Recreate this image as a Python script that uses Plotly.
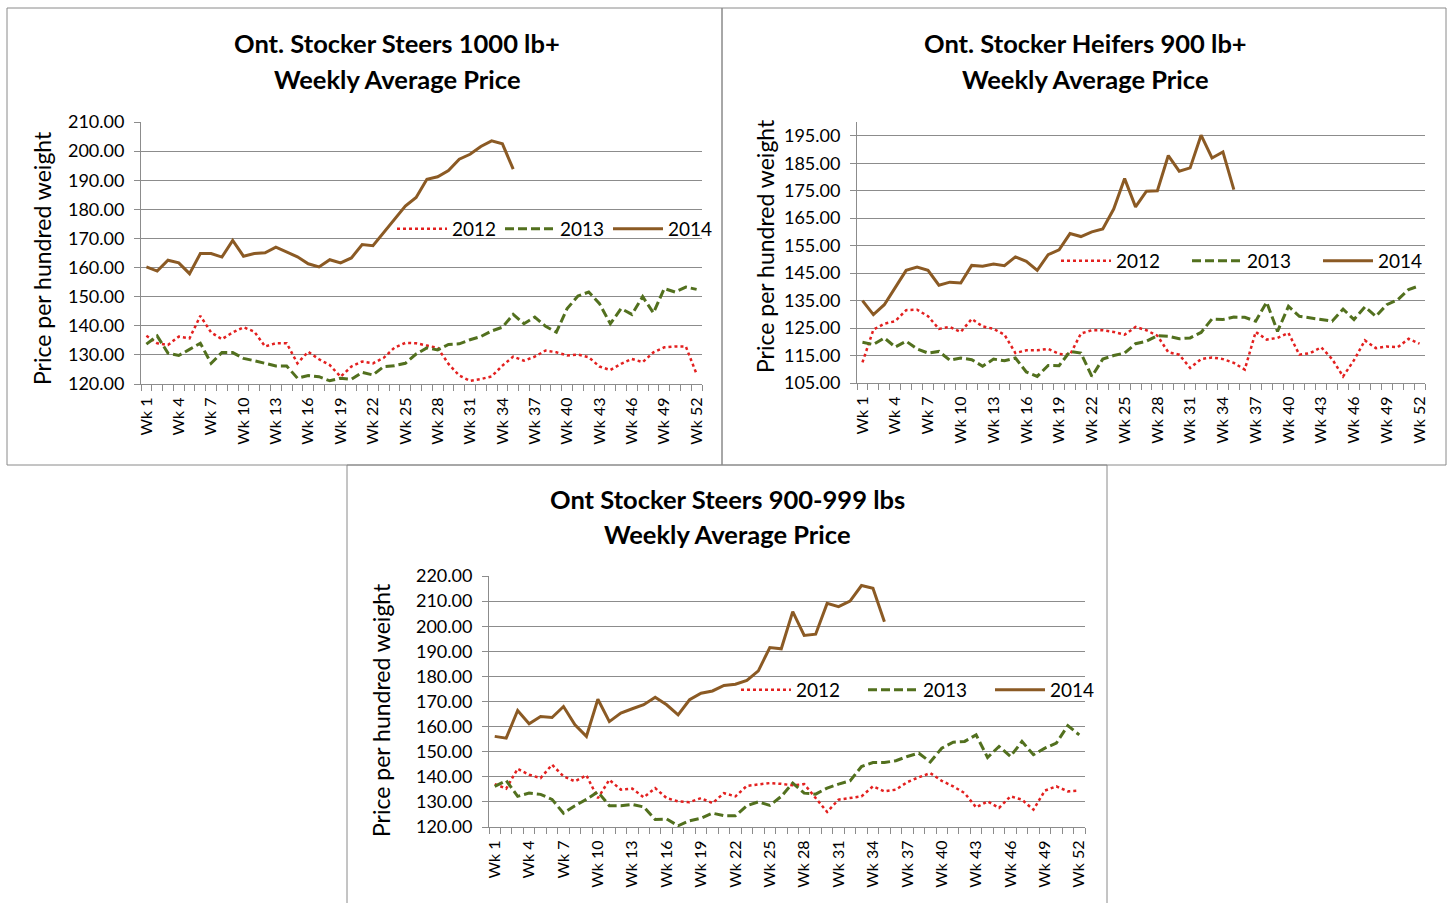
import plotly.graph_objects as go

# ---------------- data ----------------
weeks = list(range(1, 53))
tick_weeks = weeks[::3]
tick_labels = [f"Wk {w}" for w in tick_weeks]
weeks_2014 = weeks[:35]
years = ["2012", "2013", "2014"]

# Ont. Stocker Steers 1000 lb+
steers1000_2012 = [136.6, 134.0, 133.4, 136.3, 135.7, 143.4, 137.7, 135.4, 137.7, 139.5,
                   138.0, 132.9, 134.0, 134.0, 127.1, 131.1, 128.5, 126.5, 122.5, 126.0,
                   127.7, 127.1, 129.0, 132.5, 134.1, 134.0, 133.2, 132.4, 126.9, 122.9,
                   121.1, 121.7, 122.6, 126.3, 129.4, 128.0, 129.4, 131.5, 130.9, 129.8,
                   130.1, 129.2, 126.0, 124.8, 126.9, 128.6, 127.5, 130.9, 132.6, 132.9,
                   132.9, 123.4]
steers1000_2013 = [133.7, 136.5, 130.6, 129.8, 131.9, 134.0, 127.1, 130.8, 130.8, 128.8,
                   128.0, 127.1, 126.2, 126.2, 122.0, 122.9, 122.5, 121.1, 122.0, 121.6,
                   124.0, 123.1, 126.0, 126.3, 127.1, 130.3, 132.4, 131.7, 133.6, 133.8,
                   135.2, 136.3, 138.2, 139.5, 143.9, 140.7, 143.0, 139.8, 137.8, 145.9,
                   150.2, 151.6, 147.6, 140.7, 145.9, 143.9, 150.0, 144.4, 152.8, 151.6,
                   153.3, 152.5]
steers1000_2014 = [160.2, 158.8, 162.5, 161.6, 157.9, 164.8, 164.8, 163.6, 169.3, 163.9,
                   164.8, 165.1, 167.0, 165.3, 163.7, 161.3, 160.2, 162.7, 161.6, 163.3,
                   167.9, 167.5, 172.0, 176.5, 181.1, 184.1, 190.3, 191.2, 193.3, 197.2,
                   198.9, 201.6, 203.5, 202.5, 193.8]

# Ont. Stocker Heifers 900 lb+
heifers900_2012 = [112.5, 124.4, 126.6, 127.5, 131.5, 131.7, 129.3, 124.7, 125.4, 123.6,
                   128.3, 125.6, 124.7, 122.6, 115.9, 116.9, 116.9, 117.4, 115.6, 115.3,
                   123.0, 124.2, 124.2, 123.6, 122.6, 125.4, 124.2, 122.2, 116.2, 115.3,
                   110.5, 113.7, 114.3, 113.7, 112.3, 109.9, 123.6, 120.8, 121.4, 123.2,
                   115.3, 115.9, 118.0, 113.7, 107.4, 113.3, 120.5, 117.7, 118.3, 118.0,
                   121.1, 119.3]
heifers900_2013 = [119.8, 119.0, 121.4, 118.1, 120.2, 117.4, 115.9, 116.5, 113.3, 114.1,
                   113.5, 111.1, 113.7, 113.1, 114.1, 109.0, 107.4, 111.4, 111.3, 116.5,
                   115.9, 107.4, 113.7, 115.0, 115.9, 119.3, 120.2, 122.2, 122.0, 121.1,
                   121.4, 123.4, 128.3, 128.1, 129.0, 128.9, 127.5, 134.4, 123.8, 132.9,
                   129.3, 128.7, 128.1, 127.5, 131.9, 128.1, 132.7, 129.3, 133.5, 135.3,
                   139.0, 140.4]
heifers900_2014 = [135.0, 129.9, 133.5, 139.6, 146.0, 147.2, 146.0, 140.6, 141.7, 141.4,
                   147.8, 147.5, 148.3, 147.7, 150.9, 149.3, 146.0, 151.7, 153.5, 159.4,
                   158.3, 160.0, 161.1, 168.3, 179.4, 169.1, 174.8, 175.0, 187.8, 182.1,
                   183.3, 195.2, 186.9, 189.1, 175.4]

# Ont Stocker Steers 900-999 lbs
steers900_2012 = [137.1, 135.3, 143.2, 140.8, 139.5, 144.8, 140.2, 138.2, 140.6, 131.5,
                  138.8, 134.9, 135.3, 131.8, 135.5, 131.5, 130.2, 129.9, 131.5, 129.5,
                  133.5, 132.2, 136.4, 137.0, 137.5, 137.2, 136.6, 137.1, 131.5, 126.0,
                  130.9, 131.5, 132.2, 136.2, 134.2, 134.9, 137.9, 139.8, 141.5, 138.4,
                  136.2, 133.5, 127.8, 130.2, 127.6, 132.2, 130.9, 126.9, 134.5, 136.2,
                  134.2, 134.5]
steers900_2013 = [136.2, 138.5, 132.2, 133.5, 133.0, 131.0, 125.5, 128.5, 131.0, 134.0,
                  128.5, 128.5, 129.0, 128.0, 123.0, 123.2, 120.5, 122.5, 123.5, 125.5,
                  124.5, 124.5, 128.5, 130.0, 128.6, 132.2, 137.5, 133.5, 133.1, 135.5,
                  137.1, 138.4, 144.1, 145.7, 145.7, 146.4, 148.1, 149.4, 145.9, 151.4,
                  153.8, 154.1, 156.7, 147.7, 152.1, 148.1, 154.1, 148.8, 151.4, 153.4,
                  160.4, 156.7]
steers900_2014 = [156.1, 155.4, 166.4, 161.1, 164.0, 163.6, 168.0, 160.7, 156.1, 170.9,
                  162.0, 165.4, 167.1, 168.7, 171.7, 168.7, 164.7, 170.7, 173.3, 174.2,
                  176.4, 176.9, 178.4, 182.2, 191.5, 191.0, 205.8, 196.3, 196.8, 209.1,
                  207.8, 210.0, 216.2, 215.1, 201.8]

titles = [("Ont. Stocker Steers 1000 lb+", "Weekly Average Price"),
          ("Ont. Stocker Heifers 900 lb+", "Weekly Average Price"),
          ("Ont Stocker Steers 900-999 lbs", "Weekly Average Price")]
y_title = "Price per hundred weight"

# ---------------- style / layout ----------------
W, H = 1448, 903
FONT = "Lato, Calibri, Carlito, sans-serif"
GRID = "#8c8c8c"
COL = {"2012": "#E3201F", "2013": "#52701E", "2014": "#8B5A24"}
DASH = {"2012": "dot", "2013": "9px,4px", "2014": "solid"}
LW = {"2012": 2.5, "2013": 3, "2014": 3}


def px(x):
    return x / W


def py(y):
    return 1 - y / H


charts = [
    dict(data=(steers1000_2012, steers1000_2013, steers1000_2014),
         dx=(141, 702), dy=(122, 384), yr=(120, 210), t0=120,
         leg=(392, 229, 43), tpos=(397, 43, 79), ypos=(42, 258)),
    dict(data=(heifers900_2012, heifers900_2013, heifers900_2014),
         dx=(857, 1425), dy=(122, 383), yr=(105, 200), t0=105,
         leg=(1056, 261, 66), tpos=(1085, 43, 79), ypos=(765, 246)),
    dict(data=(steers900_2012, steers900_2013, steers900_2014),
         dx=(489, 1085), dy=(576, 827), yr=(120, 220), t0=120,
         leg=(736, 690, 62), tpos=(727, 499, 534), ypos=(381, 710)),
]

fig = go.Figure()
annotations = []
layout_axes = {}

for k, ch in enumerate(charts):
    n = "" if k == 0 else str(k + 1)
    legname = "legend" + n
    for yr_name, vals in zip(years, ch["data"]):
        xs = weeks if yr_name != "2014" else weeks_2014
        fig.add_trace(go.Scatter(
            x=xs, y=vals, mode="lines", name=yr_name,
            line=dict(color=COL[yr_name], width=LW[yr_name], dash=DASH[yr_name]),
            xaxis="x" + n, yaxis="y" + n, legend=legname,
            hoverinfo="skip"))
    layout_axes["xaxis" + n] = dict(
        domain=[px(ch["dx"][0]), px(ch["dx"][1])], anchor="y" + n,
        range=[0.5, 52.5], tickmode="array", tickvals=tick_weeks, ticktext=tick_labels,
        tickangle=-90, ticks="", showgrid=False, zeroline=False, automargin=False,
        showline=True, linecolor=GRID, linewidth=1,
        ticklabelstandoff=6,
        tickfont=dict(family=FONT, size=16, color="#000000"),
        minor=dict(ticks="outside", tick0=0.5, dtick=1, ticklen=6,
                   tickcolor=GRID, tickwidth=1, showgrid=False))
    layout_axes["yaxis" + n] = dict(
        domain=[py(ch["dy"][1]), py(ch["dy"][0])], anchor="x" + n,
        range=list(ch["yr"]), tick0=ch["t0"], dtick=10, tickformat=".2f",
        showgrid=True, gridcolor=GRID, gridwidth=1, zeroline=False, automargin=False,
        showline=True, linecolor=GRID, linewidth=1,
        ticks="outside", ticklen=6, tickcolor=GRID,
        ticklabelstandoff=6,
        tickfont=dict(family=FONT, size=18, color="#000000"))
    lx, ly, ew = ch["leg"]
    layout_axes[legname] = dict(
        orientation="h", x=px(lx), y=py(ly), xanchor="left", yanchor="middle",
        xref="paper", yref="paper", itemwidth=50,
        bgcolor="rgba(0,0,0,0)", borderwidth=0,
        entrywidth=ew, entrywidthmode="pixels",
        font=dict(family=FONT, size=19, color="#000000"))
    tx, t1, t2 = ch["tpos"]
    for line, ty in zip(titles[k], (t1, t2)):
        annotations.append(dict(
            text="<b>" + line + "</b>", x=px(tx), y=py(ty), xref="paper", yref="paper",
            xanchor="center", yanchor="middle", showarrow=False,
            font=dict(family=FONT, size=25.5, color="#000000")))
    ax_, ay_ = ch["ypos"]
    annotations.append(dict(
        text=y_title, x=px(ax_), y=py(ay_), xref="paper", yref="paper",
        xanchor="center", yanchor="middle", showarrow=False, textangle=-90,
        font=dict(family=FONT, size=23, color="#000000")))

BORDER = "#8a8a8a"
panels = [(7, 8, 722, 465), (722, 8, 1446, 465), (347, 465, 1107, 906)]
shapes = [dict(type="rect", xref="paper", yref="paper",
               x0=px(a), x1=px(c), y0=py(d), y1=py(b),
               line=dict(color=BORDER, width=1), fillcolor="rgba(0,0,0,0)", layer="below")
          for a, b, c, d in panels]

fig.update_layout(
    template="none",
    width=W, height=H, margin=dict(l=0, r=0, t=0, b=0, autoexpand=False),
    paper_bgcolor="white", plot_bgcolor="white",
    showlegend=True, annotations=annotations, shapes=shapes,
    font=dict(family=FONT, color="#000000"),
    **layout_axes)

fig.write_html("out.html", config={"displayModeBar": False},
               post_script="document.body.style.margin='0px';")
